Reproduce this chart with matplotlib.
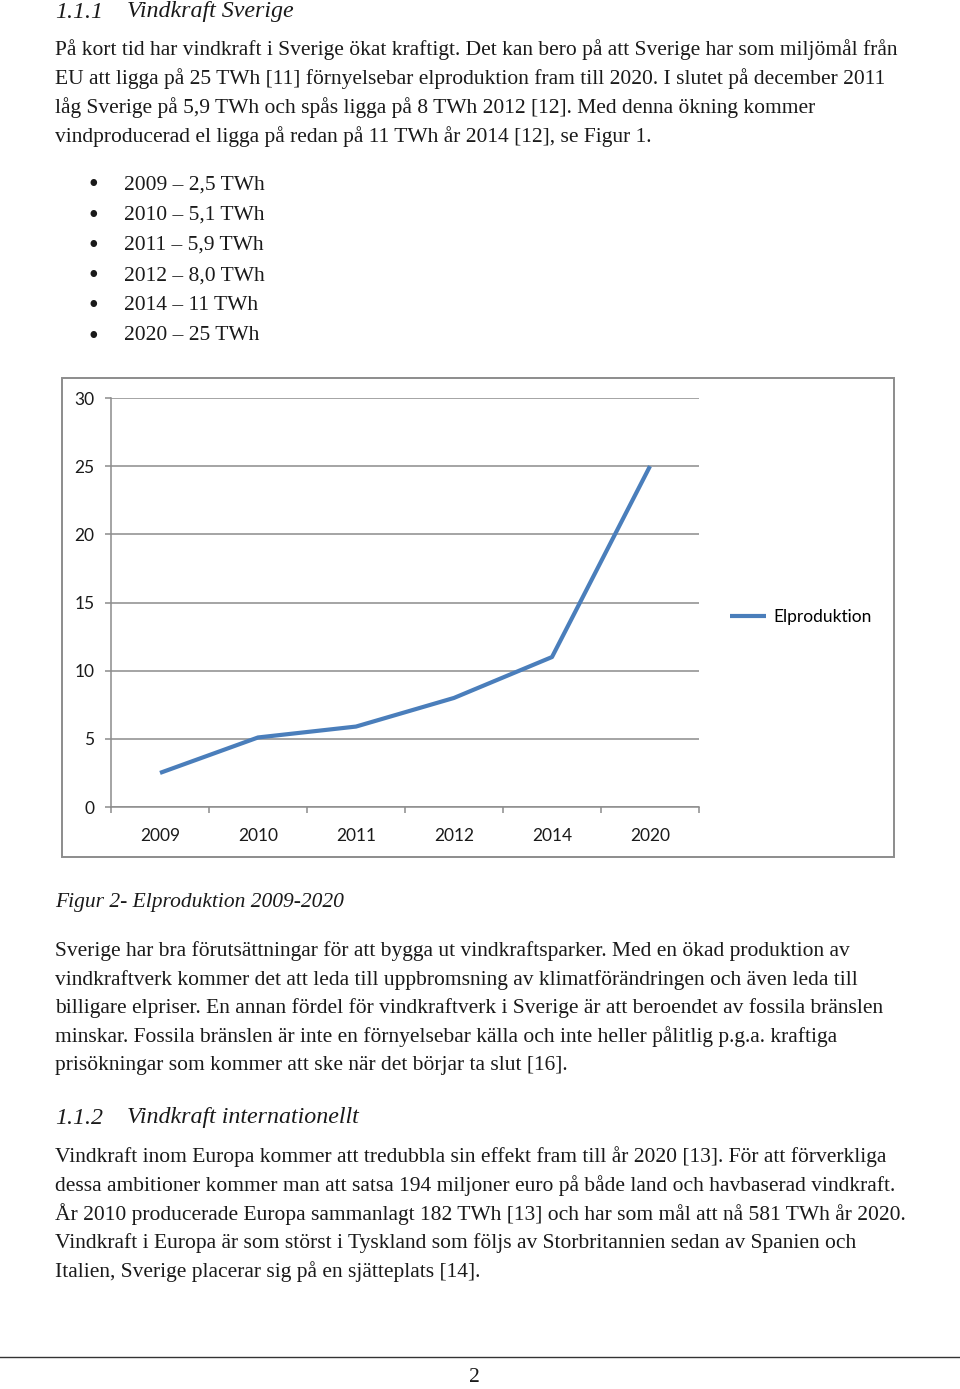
import matplotlib.pyplot as plt
from matplotlib.patches import Rectangle
from matplotlib.lines import Line2D

# chart data
years = ["2009", "2010", "2011", "2012", "2014", "2020"]
twh = [2.5, 5.1, 5.9, 8.0, 11, 25]
series_name = "Elproduktion"

# page text
heading1 = ("1.1.1", "Vindkraft Sverige")
para1 = [
    "På kort tid har vindkraft i Sverige ökat kraftigt. Det kan bero på att Sverige har som miljömål från",
    "EU att ligga på 25 TWh [11] förnyelsebar elproduktion fram till 2020. I slutet på december 2011",
    "låg Sverige på 5,9 TWh och spås ligga på 8 TWh 2012 [12]. Med denna ökning kommer",
    "vindproducerad el ligga på redan på 11 TWh år 2014 [12], se Figur 1.",
]
bullets = ["2009 – 2,5 TWh", "2010 – 5,1 TWh", "2011 – 5,9 TWh",
           "2012 – 8,0 TWh", "2014 – 11 TWh", "2020 – 25 TWh"]
caption = "Figur 2- Elproduktion 2009-2020"
para2 = [
    "Sverige har bra förutsättningar för att bygga ut vindkraftsparker. Med en ökad produktion av",
    "vindkraftverk kommer det att leda till uppbromsning av klimatförändringen och även leda till",
    "billigare elpriser. En annan fördel för vindkraftverk i Sverige är att beroendet av fossila bränslen",
    "minskar. Fossila bränslen är inte en förnyelsebar källa och inte heller pålitlig p.g.a. kraftiga",
    "prisökningar som kommer att ske när det börjar ta slut [16].",
]
heading2 = ("1.1.2", "Vindkraft internationellt")
para3 = [
    "Vindkraft inom Europa kommer att tredubbla sin effekt fram till år 2020 [13]. För att förverkliga",
    "dessa ambitioner kommer man att satsa 194 miljoner euro på både land och havbaserad vindkraft.",
    "År 2010 producerade Europa sammanlagt 182 TWh [13] och har som mål att nå 581 TWh år 2020.",
    "Vindkraft i Europa är som störst i Tyskland som följs av Storbritannien sedan av Spanien och",
    "Italien, Sverige placerar sig på en sjätteplats [14].",
]
page_no = "2"

W, H = 960, 1389
fig = plt.figure(figsize=(W / 100, H / 100), dpi=100)
fig.patch.set_facecolor("white")

SERIF = "Liberation Serif"
TXT = "#1a1a1a"
BODY = 15.5
HEAD = 17.3


def px(x, y):
    return x / W, 1 - y / H


def put(x, y, s, size=BODY, style="normal", ha="left"):
    fig.text(*px(x, y), s, fontsize=size, family=SERIF, style=style,
             color=TXT, ha=ha, va="center")


# headings and text
put(55, 12, heading1[0], size=HEAD, style="italic")
put(127, 12, heading1[1], size=HEAD, style="italic")
for i, line in enumerate(para1):
    put(55, 50 + i * 28.7, line)
for i, b in enumerate(bullets):
    put(88, 186 + i * 30.2, "•", size=20)
    put(124, 185 + i * 30.2, b)

put(55, 902, caption, style="italic")
for i, line in enumerate(para2):
    put(55, 951 + i * 28.6, line)

put(55, 1118, heading2[0], size=HEAD, style="italic")
put(127, 1118, heading2[1], size=HEAD, style="italic")
for i, line in enumerate(para3):
    put(55, 1157 + i * 28.7, line)

fig.add_artist(Line2D([0, 1], [1 - 1357 / H] * 2, color="#333333", lw=1.0))
put(469, 1378, page_no)

# chart frame
x0, y0 = px(62, 857)
x1, y1 = px(894, 378)
fig.add_artist(Rectangle((x0, y0), x1 - x0, y1 - y0, transform=fig.transFigure,
                         fill=False, edgecolor="#8c8c8c", lw=1.4))

# chart axes
l, b = px(111, 807)
r, t = px(699, 398)
ax = fig.add_axes([l, b, r - l, t - b])
ax.set_facecolor("none")

xs = [i + 0.5 for i in range(len(years))]
ax.plot(xs, twh, color="#4a7ebb", lw=3.0, solid_capstyle="butt",
        solid_joinstyle="round", label=series_name)

ax.set_xlim(0, len(years))
ax.set_ylim(0, 30)
ax.set_yticks(range(0, 31, 5))
ax.yaxis.grid(True, color="#8c8c8c", lw=1.1)
ax.set_axisbelow(True)

ax.set_xticks(range(len(years) + 1))
ax.set_xticklabels([])
ax.set_xticks(xs, minor=True)
ax.set_xticklabels(years, minor=True, family="Lato", fontsize=12.5, color=TXT)
ax.tick_params(axis="x", which="minor", length=0, pad=15)
ax.tick_params(axis="x", which="major", length=4, width=1.1, color="#8c8c8c")
ax.tick_params(axis="y", length=4, width=1.1, color="#8c8c8c", pad=8,
               labelsize=12.5, labelcolor=TXT)
for lab in ax.get_yticklabels():
    lab.set_family("Lato")

for side in ["top", "right"]:
    ax.spines[side].set_visible(False)
for side in ["left", "bottom"]:
    ax.spines[side].set_color("#8c8c8c")
    ax.spines[side].set_linewidth(1.1)

ax.legend(loc="center left", bbox_to_anchor=px(714, 617),
          bbox_transform=fig.transFigure, frameon=False, handlelength=2.1,
          handletextpad=0.4, prop={"family": "Lato", "size": 12.5})

fig.savefig("out.png", dpi=100)
